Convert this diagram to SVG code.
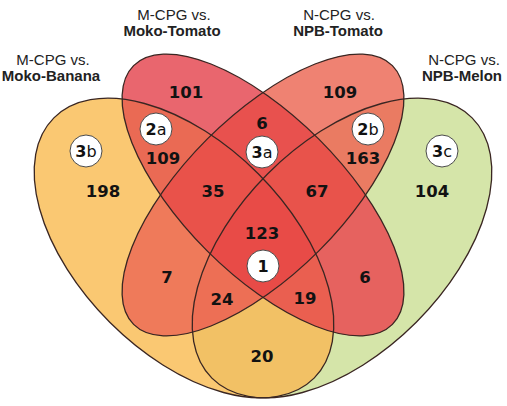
<svg xmlns="http://www.w3.org/2000/svg" width="507" height="406" viewBox="0 0 507 406">
  <style>
    .outline { fill: none; stroke: #3a2622; stroke-width: 1.3; }
    .title { font-family: "Liberation Sans", Arial, sans-serif; font-size: 15px; fill: #222; text-anchor: middle; }
    .title .b { font-weight: bold; }
    .count { font-family: "DejaVu Sans", "Open Sans", sans-serif; font-weight: bold; font-size: 16.5px; fill: #121212; text-anchor: middle; }
    .badge circle { fill: #fff; stroke: #4a4a4a; stroke-width: 1; }
    .badge text { font-family: "DejaVu Sans", "Open Sans", sans-serif; font-size: 16px; fill: #111; text-anchor: middle; }
    .badge .d { font-weight: bold; }
  </style>
  <defs>
    <!-- the four set shapes -->
    <ellipse id="shA" cx="184" cy="248" rx="184" ry="105" transform="rotate(45 184 248)"/>
    <ellipse id="shB" cx="263" cy="195" rx="183" ry="79" transform="rotate(45 263 195)"/>
    <ellipse id="shC" cx="263" cy="195" rx="183" ry="79" transform="rotate(-45 263 195)"/>
    <ellipse id="shD" cx="342" cy="248" rx="184" ry="105" transform="rotate(-45 342 248)"/>
    <clipPath id="clipA"><use href="#shA"/></clipPath>
    <clipPath id="clipB"><use href="#shB"/></clipPath>
    <clipPath id="clipC"><use href="#shC"/></clipPath>
    <clipPath id="clipD"><use href="#shD"/></clipPath>
  </defs>

  <!-- region fills: singles, then pairs, triples and the core painted on top -->
  <g id="regions">
    <use href="#shA" fill="#FAC872"/>
    <use href="#shD" fill="#D5E5A9"/>
    <use href="#shB" fill="#E9666E"/>
    <use href="#shC" fill="#EF8272"/>

    <g clip-path="url(#clipA)"><use href="#shB" fill="#EA6A54"/></g>
    <g clip-path="url(#clipA)"><use href="#shC" fill="#EF7A5A"/></g>
    <g clip-path="url(#clipA)"><use href="#shD" fill="#F2C165"/></g>
    <g clip-path="url(#clipB)"><use href="#shC" fill="#E8514E"/></g>
    <g clip-path="url(#clipB)"><use href="#shD" fill="#E6625F"/></g>
    <g clip-path="url(#clipC)"><use href="#shD" fill="#EA7B62"/></g>

    <g clip-path="url(#clipA)"><g clip-path="url(#clipB)"><use href="#shC" fill="#E9524A"/></g></g>
    <g clip-path="url(#clipB)"><g clip-path="url(#clipC)"><use href="#shD" fill="#E8534B"/></g></g>
    <g clip-path="url(#clipA)"><g clip-path="url(#clipB)"><use href="#shD" fill="#EA5F50"/></g></g>
    <g clip-path="url(#clipA)"><g clip-path="url(#clipC)"><use href="#shD" fill="#ED6F55"/></g></g>

    <g clip-path="url(#clipA)"><g clip-path="url(#clipB)"><g clip-path="url(#clipC)"><use href="#shD" fill="#E84B47"/></g></g></g>
  </g>

  <!-- set outlines with their titles -->
  <g id="set-moko-banana">
    <use href="#shA" class="outline"/>
    <text class="title" x="53" y="65">M-CPG vs.</text>
    <text class="title" x="51" y="81"><tspan class="b">Moko-Banana</tspan></text>
  </g>
  <g id="set-moko-tomato">
    <use href="#shB" class="outline"/>
    <text class="title" x="174" y="20">M-CPG vs.</text>
    <text class="title" x="172" y="36"><tspan class="b">Moko-Tomato</tspan></text>
  </g>
  <g id="set-npb-tomato">
    <use href="#shC" class="outline"/>
    <text class="title" x="339" y="20">N-CPG vs.</text>
    <text class="title" x="338" y="36"><tspan class="b">NPB-Tomato</tspan></text>
  </g>
  <g id="set-npb-melon">
    <use href="#shD" class="outline"/>
    <text class="title" x="464" y="65">N-CPG vs.</text>
    <text class="title" x="462" y="81"><tspan class="b">NPB-Melon</tspan></text>
  </g>

  <!-- region counts -->
  <g id="counts">
    <text class="count" x="186" y="98">101</text>
    <text class="count" x="340" y="98">109</text>
    <text class="count" x="262" y="129">6</text>
    <text class="count" x="163" y="164">109</text>
    <text class="count" x="363" y="164">163</text>
    <text class="count" x="103" y="197">198</text>
    <text class="count" x="213" y="197">35</text>
    <text class="count" x="317" y="197">67</text>
    <text class="count" x="432" y="197">104</text>
    <text class="count" x="262" y="239">123</text>
    <text class="count" x="167" y="283">7</text>
    <text class="count" x="365" y="283">6</text>
    <text class="count" x="222" y="305">24</text>
    <text class="count" x="305" y="304">19</text>
    <text class="count" x="262" y="362">20</text>
  </g>

  <!-- region badges -->
  <g id="badges">
    <g class="badge"><circle cx="86" cy="151" r="16"/><text x="86" y="157"><tspan class="d">3</tspan>b</text></g>
    <g class="badge"><circle cx="156" cy="129" r="16"/><text x="156" y="135"><tspan class="d">2</tspan>a</text></g>
    <g class="badge"><circle cx="262" cy="152" r="16"/><text x="262" y="158"><tspan class="d">3</tspan>a</text></g>
    <g class="badge"><circle cx="368" cy="129" r="16"/><text x="368" y="135"><tspan class="d">2</tspan>b</text></g>
    <g class="badge"><circle cx="442" cy="151" r="16"/><text x="442" y="157"><tspan class="d">3</tspan>c</text></g>
    <g class="badge"><circle cx="263" cy="266" r="16"/><text x="263" y="272" class="d">1</text></g>
  </g>
</svg>
